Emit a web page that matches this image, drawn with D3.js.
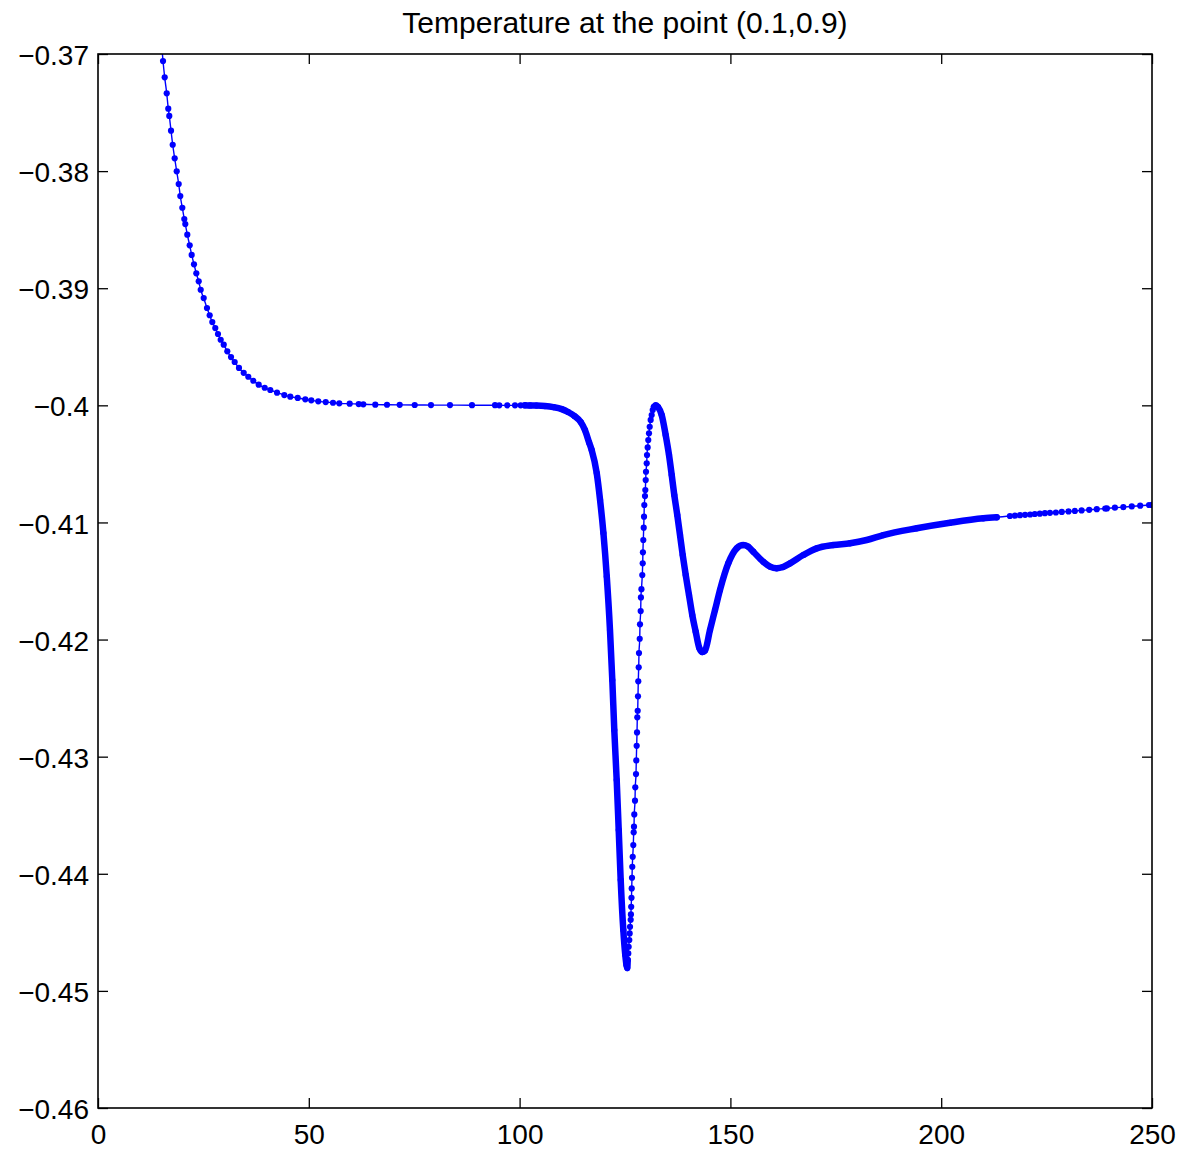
<!DOCTYPE html>
<html>
<head>
<meta charset="utf-8">
<script src="https://cdn.jsdelivr.net/npm/d3@7"></script>
<style>
body { margin: 0; background: #fff; }
svg text { font-family: "Liberation Sans", Arial, Helvetica, sans-serif; fill: #000; }
</style>
</head>
<body>
<div id="chart"></div>
<script>
// time values of the solver output
var times = [
  15.05, 15.42, 15.82, 16.30, 16.67, 16.91, 17.32, 17.72, 18.19, 18.67, 19.14, 19.52, 20.00,
  20.47, 20.71, 21.18, 21.75, 22.22, 22.77, 23.32, 23.89, 24.36, 25.07, 25.85, 26.49, 27.11,
  27.82, 28.46, 29.10, 29.82, 30.67, 31.55, 32.42, 33.44, 34.56, 35.65, 36.84, 38.12, 39.54,
  40.87, 42.46, 44.19, 45.61, 47.37, 49.17, 50.59, 52.25, 54.01, 55.74, 57.23, 59.70, 61.84,
  62.93, 65.77, 68.55, 71.56, 75.12, 78.98, 83.49, 88.71, 94.17, 95.18, 97.08, 98.91, 100.26,
  101.28, 102.5, 104, 106, 108, 110, 111.5, 113, 114.5, 115.5, 116.5, 117.1, 118.29, 119.09, 119.88,
  120.68, 121.44, 121.99, 122.46, 123.03, 123.51, 123.98, 124.6, 125.07, 125.35, 125.55,
  125.64, 125.78, 125.87, 126.02, 126.11, 126.19, 126.35, 126.40, 126.47, 126.54, 126.59, 126.66,
  126.73, 126.83, 126.97, 127.06, 127.13, 127.20, 127.37, 127.44, 127.61, 127.68, 127.77, 127.85,
  127.92, 128.01, 128.08, 128.15, 128.25, 128.32, 128.49, 128.56, 128.72, 128.78, 128.90, 129.10,
  129.20, 129.25, 129.34, 129.44, 129.51, 129.58, 129.74, 129.82, 129.91, 129.98, 130.15, 130.22,
  130.38, 130.52, 130.69, 130.86, 131.09, 131.33, 131.57, 131.88, 132.28,
  132.83, 133.71, 134.65, 135.44, 136.08, 136.69, 137.40, 138.05, 138.69, 139.40, 140.18, 140.96,
  141.77, 142.63, 143.34,
  143.98, 145.16, 146.35, 147.53, 149.50, 151.49, 153.06, 154.17, 155.43, 157.80, 159.39, 160.98,
  162.48, 164.14, 167.29, 170.47, 174.41, 178.37, 182.33, 186.27, 194.19, 202.09, 209.99, 213.17,
  216.3, 217.5, 218.7, 219.9, 221.1, 222.2, 223.4, 224.6, 225.8, 227.2, 228.6, 230.2, 231.7,
  233.3, 235.1, 236.9, 238.9, 239.3, 241.2, 243.2, 245.2, 247.2, 249.3, 250.0
];

// temperature at (0.1, 0.9)
var temps = [
  -0.3690, -0.37060, -0.37199, -0.37336, -0.37467, -0.37529, -0.37655, -0.37775, -0.37891, -0.38002, -0.38110, -0.38213, -0.38313,
  -0.38409, -0.38452, -0.38543, -0.38634, -0.38716, -0.38796, -0.38873, -0.38941, -0.39013, -0.39084, -0.39169, -0.39231, -0.39289,
  -0.39340, -0.39391, -0.39440, -0.39482, -0.39539, -0.39588, -0.39630, -0.39681, -0.39722, -0.39756, -0.39790, -0.39824, -0.39850,
  -0.39869, -0.39892, -0.39912, -0.39926, -0.39937, -0.39949, -0.39957, -0.39966, -0.39972, -0.39978, -0.39983, -0.39986, -0.39989,
  -0.39991, -0.39994, -0.39995, -0.39996, -0.39997, -0.39998, -0.39998, -0.39999, -0.39999, -0.40000, -0.40000, -0.40000, -0.40000,
  -0.40000, -0.40001, -0.40002, -0.40006, -0.40015, -0.40032, -0.40057, -0.40091, -0.40143, -0.40211, -0.40319, -0.40382, -0.40578, -0.40809, -0.41090,
  -0.41463, -0.41919, -0.42346, -0.42773, -0.43200, -0.43627, -0.44054, -0.44481, -0.44694, -0.44780, -0.44805,
  -0.44737, -0.44680, -0.44623, -0.44566, -0.44509, -0.44453, -0.44393, -0.44347, -0.44282, -0.44205, -0.44125, -0.44034,
  -0.43940, -0.43855, -0.43755, -0.43646, -0.43598, -0.43493, -0.43376, -0.43262, -0.43149, -0.43032, -0.42907, -0.42793,
  -0.42664, -0.42608, -0.42485, -0.42357, -0.42237, -0.42115, -0.41993, -0.41870, -0.41757, -0.41640, -0.41570, -0.41449,
  -0.41349, -0.41255, -0.41150, -0.41045, -0.40951, -0.40851, -0.40775, -0.40723, -0.40638, -0.40567, -0.40495, -0.40424,
  -0.40359, -0.40296, -0.40239, -0.40183, -0.40125, -0.40083, -0.40040, -0.40012, -0.40000,
  -0.40015, -0.40083, -0.40254, -0.40424, -0.40595, -0.40766, -0.40937, -0.41108, -0.41279, -0.41449, -0.41620, -0.41791,
  -0.41933, -0.42073, -0.42107,
  -0.42094, -0.41919, -0.41748, -0.41577, -0.41349, -0.41221, -0.41193, -0.41206, -0.41250, -0.41336, -0.41377, -0.41392,
  -0.41381, -0.41349, -0.41278, -0.41221, -0.41193, -0.41178, -0.41150, -0.41108, -0.41050, -0.41003, -0.40965, -0.40956,
  -0.40945, -0.40942, -0.40938, -0.40935, -0.40932, -0.40928, -0.40925, -0.40921, -0.40918, -0.40915, -0.40910, -0.40906, -0.40902,
  -0.40897, -0.40892, -0.40887, -0.40881, -0.40880, -0.40874, -0.40869, -0.40863, -0.40857, -0.40851, -0.40850
];

var xTicks = [0, 50, 100, 150, 200, 250];
var yTicks = [-0.37, -0.38, -0.39, -0.4, -0.41, -0.42, -0.43, -0.44, -0.45, -0.46];

// time windows where the steps are so small the markers run together
var mergedSpans = [[101.0, 125.7], [131.6, 215.0]];

var titleText = "Temperature at the point (0.1,0.9)";

var width = 1183,
height = 1151,
margin = {top: 54, right: 31, bottom: 43, left: 98};

var plotW = width - margin.left - margin.right,
plotH = height - margin.top - margin.bottom;

var data = times.map(function(t, i) { return {t: t, v: temps[i]}; });

var svg = d3.select("#chart")
.append("svg")
.attr("width", width)
.attr("height", height);

var xScale = d3.scaleLinear()
.domain([0, 250])
.range([0, plotW]);

var yScale = d3.scaleLinear()
.domain([-0.46, -0.37])
.range([plotH, 0]);

var g = svg.append("g")
.attr("transform", "translate(" + margin.left + "," + margin.top + ")");

// clip for the curve
g.append("clipPath")
.attr("id", "plot-clip")
.append("rect")
.attr("width", plotW)
.attr("height", plotH);

function fmt(d) {
	return (d < 0 ? "\u2212" : "") + Math.abs(d);
}

//Axes, MATLAB style: inward ticks on all four sides
var xAxis = d3.axisBottom(xScale).tickValues(xTicks).tickSizeInner(-10).tickSizeOuter(0).tickPadding(16).tickFormat(fmt);
var yAxis = d3.axisLeft(yScale).tickValues(yTicks).tickSizeInner(-10).tickSizeOuter(0).tickPadding(9).tickFormat(fmt);
var xAxisTop = d3.axisTop(xScale).tickValues(xTicks).tickSizeInner(-10).tickSizeOuter(0).tickFormat("");
var yAxisRight = d3.axisRight(yScale).tickValues(yTicks).tickSizeInner(-10).tickSizeOuter(0).tickFormat("");

g.append("g").attr("transform", "translate(0," + plotH + ")").call(xAxis);
var yAxisG = g.append("g").call(yAxis);
g.append("g").call(xAxisTop);
g.append("g").attr("transform", "translate(" + plotW + ",0)").call(yAxisRight);

g.selectAll(".domain").remove();
g.selectAll(".tick line").attr("stroke", "#000").attr("stroke-width", 1.3);
g.selectAll(".tick text")
.style("font-size", "28px")
.attr("fill", "#000");

// left labels sit a bit lower in the original
yAxisG.selectAll(".tick text").attr("dy", "0.38em");

var curve = g.append("g").attr("clip-path", "url(#plot-clip)");

var line = d3.line()
.curve(d3.curveMonotoneX)
.x(function(d) { return xScale(d.t); })
.y(function(d) { return yScale(d.v); });

//thin connecting line
curve.append("path")
.datum(data)
.attr("fill", "none")
.attr("stroke", "#0000ff")
.attr("stroke-width", 1.4)
.attr("d", line);

//where markers overlap they read as a thick band
mergedSpans.forEach(function(s) {
	curve.append("path")
	.datum(data.filter(function(d) { return d.t >= s[0] && d.t <= s[1]; }))
	.attr("fill", "none")
	.attr("stroke", "#0000ff")
	.attr("stroke-width", 6.5)
	.attr("stroke-linecap", "round")
	.attr("stroke-linejoin", "round")
	.attr("d", line);
});

//dot markers
curve.selectAll("circle")
.data(data)
.enter()
.append("circle")
.attr("cx", function(d) { return xScale(d.t); })
.attr("cy", function(d) { return yScale(d.v); })
.attr("r", 3.1)
.attr("fill", "#0000ff");

//box
g.append("rect")
.attr("width", plotW)
.attr("height", plotH)
.attr("fill", "none")
.attr("stroke", "#000")
.attr("stroke-width", 1.6);

//title
svg.append("text")
.attr("x", margin.left + plotW / 2)
.attr("y", 33)
.attr("text-anchor", "middle")
.style("font-size", "30px")
.text(titleText);
</script>
</body>
</html>
